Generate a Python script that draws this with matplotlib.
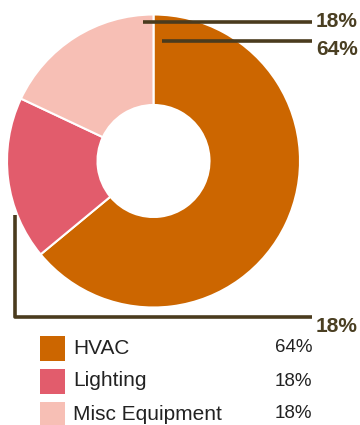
import matplotlib
matplotlib.use("Agg")
import matplotlib.pyplot as plt
from matplotlib.patches import Rectangle

# data
categories = ["HVAC", "Lighting", "Misc Equipment"]
shares = [64, 18, 18]
colors = ["#CC6600", "#E25C6C", "#F7BFB5"]
callout_labels = ["18%", "64%", "18%"]

W, H = 360, 425
plt.rcParams['font.family'] = ['Liberation Sans', 'DejaVu Sans']


def Y(y):
    # pixel row -> data y (origin at bottom)
    return H - y


fig = plt.figure(figsize=(W / 100, H / 100), dpi=100)
ax = fig.add_axes([0, 0, 1, 1])

cx, cy, r_out, r_in = 153.5, 161, 146.5, 56
ax.pie(shares, colors=colors, startangle=90, counterclock=False,
       radius=r_out, center=(cx, Y(cy)),
       wedgeprops=dict(width=r_out - r_in, edgecolor="white", linewidth=1.5))

line_col = "#4a3b1e"
txt_col = "#4a3f22"
lx = 312
# callout lines (pixel layout)
callouts = [
    ([(143, 22), (lx, 22)], (316, 21)),
    ([(162, 41), (lx, 41)], (316, 49)),
    ([(15, 215), (15, 317), (lx, 317)], (316, 326)),
]
for (pts, (tx, ty)), lab in zip(callouts, callout_labels):
    xs = [p[0] for p in pts]
    ys = [Y(p[1]) for p in pts]
    ax.plot(xs, ys, color=line_col, lw=2.6, solid_capstyle="butt", zorder=5)
    ax.text(tx, Y(ty), lab, fontsize=15, fontweight="bold", color=txt_col,
            ha="left", va="center")

# legend
row_y = [348, 381, 414]
for name, val, col, ry in zip(categories, shares, colors, row_y):
    ax.add_patch(Rectangle((40, Y(ry) - 12.5), 25, 25, facecolor=col,
                           edgecolor="none"))
    ax.text(73, Y(ry), name, fontsize=15, color="#222222", ha="left",
            va="center")
    ax.text(275, Y(ry), f"{val}%", fontsize=13.5, color="#222222", ha="left",
            va="center")

ax.set_xlim(0, W)
ax.set_ylim(0, H)
ax.axis("off")
fig.savefig("out.png", dpi=100)
